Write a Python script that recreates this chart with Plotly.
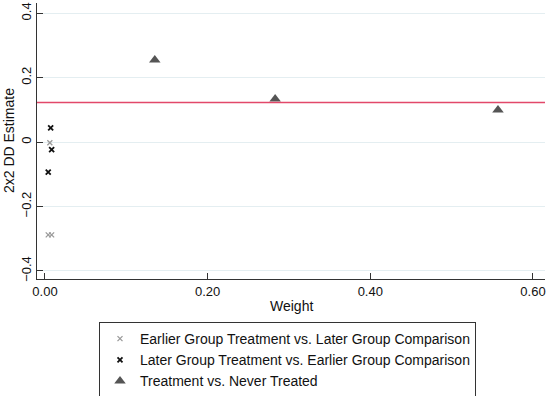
import plotly.graph_objects as go

# Data
early_w = [0.0060, 0.0040, 0.0082]
early_est = [-0.002, -0.288, -0.288]
late_w = [0.0070, 0.0082, 0.0040]
late_est = [0.044, -0.023, -0.093]
never_w = [0.135, 0.283, 0.557]
never_est = [0.255, 0.134, 0.100]
overall_dd = 0.123
x_ticks = [0, 0.2, 0.4, 0.6]
x_ticklabels = ["0.00", "0.20", "0.40", "0.60"]
y_ticks = [-0.4, -0.2, 0, 0.2, 0.4]
y_ticklabels = ["\u22120.4", "\u22120.2", "0", "0.2", "0.4"]

fig = go.Figure()
fig.add_trace(go.Scatter(x=early_w, y=early_est, mode="markers",
                         name="Earlier Group Treatment vs. Later Group Comparison",
                         marker=dict(symbol="x-thin", size=5, color="#9a9a9a",
                                     line=dict(width=1.3, color="#9a9a9a"))))
fig.add_trace(go.Scatter(x=late_w, y=late_est, mode="markers",
                         name="Later Group Treatment vs. Earlier Group Comparison",
                         marker=dict(symbol="x-thin", size=5, color="#111111",
                                     line=dict(width=1.8, color="#111111"))))
fig.add_trace(go.Scatter(x=never_w, y=never_est, mode="markers",
                         name="Treatment vs. Never Treated",
                         marker=dict(symbol="triangle-up", size=10, color="#555555")))
fig.add_hline(y=overall_dd, line=dict(color="#e2486a", width=1.5))

W, H = 550, 396
fig.update_layout(
    width=W, height=H,
    margin=dict(l=37, r=5, t=3, b=117, autoexpand=False),
    plot_bgcolor="white", paper_bgcolor="white",
    font=dict(family="Liberation Sans, Arial, sans-serif", size=13, color="#111111"),
    showlegend=True,
    legend=dict(x=99 / W, xanchor="left", xref="container",
                y=1 - 322 / H, yanchor="top", yref="container",
                orientation="v", bordercolor="#333333", borderwidth=1,
                font=dict(size=14), itemwidth=30, tracegroupgap=0),
    xaxis=dict(range=[-0.0098, 0.6148], tickvals=x_ticks, ticktext=x_ticklabels,
               showgrid=False, zeroline=False, showline=True, linecolor="#333333",
               ticks="inside", ticklen=6, tickcolor="#333333", automargin=False,
               tickfont=dict(size=13)),
    yaxis=dict(range=[-0.425, 0.432], tickvals=y_ticks, ticktext=y_ticklabels,
               tickangle=-90, showgrid=True, gridcolor="#e4eef1", zeroline=False,
               showline=True, linecolor="#333333", ticks="inside", ticklen=6,
               tickcolor="#333333", automargin=False, tickfont=dict(size=13)),
    annotations=[
        dict(text="Weight", xref="paper", yref="paper", x=0.5, y=-0.06,
             xanchor="center", yanchor="top", showarrow=False, font=dict(size=14)),
        dict(text="2x2 DD Estimate", xref="paper", yref="paper", x=-0.055, y=0.5,
             xanchor="center", yanchor="middle", textangle=-90, showarrow=False,
             font=dict(size=14)),
    ],
)
fig.write_html("out.html", config={"displayModeBar": False},
               post_script="document.body.style.margin='0';")
